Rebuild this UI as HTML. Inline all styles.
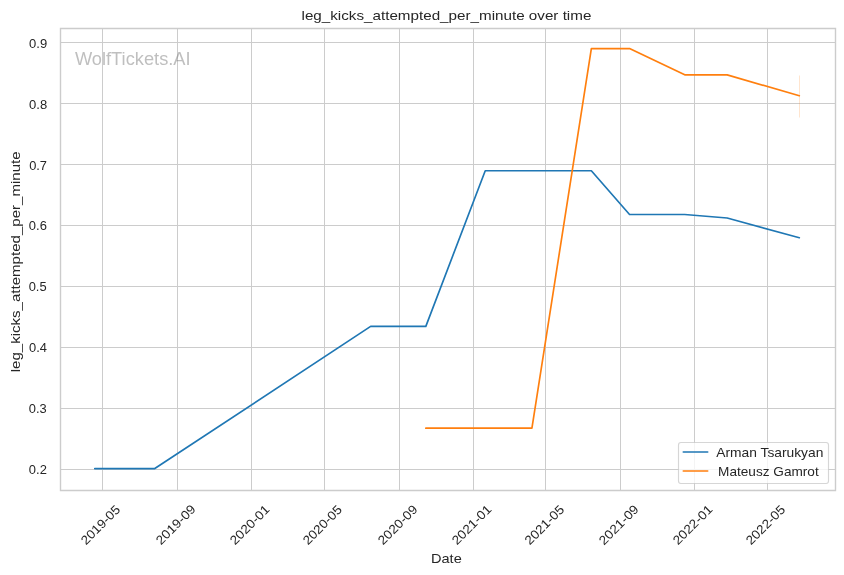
<!DOCTYPE html>
<html><head><meta charset="utf-8"><title>leg_kicks_attempted_per_minute over time</title>
<style>html,body{margin:0;padding:0;background:#fff;width:844px;height:575px;overflow:hidden}svg{display:block;will-change:transform}text{font-family:"Liberation Sans",sans-serif;fill:#262626}</style></head><body>
<svg width="844" height="575" viewBox="0 0 844 575">
<rect x="0" y="0" width="844" height="575" fill="#fff"/>
<path d="M102.5 28.5V490.5M177.5 28.5V490.5M251.5 28.5V490.5M324.5 28.5V490.5M399.5 28.5V490.5M473.5 28.5V490.5M545.5 28.5V490.5M620.5 28.5V490.5M694.5 28.5V490.5M767.5 28.5V490.5M60.5 42.5H835.5M60.5 103.5H835.5M60.5 164.5H835.5M60.5 225.5H835.5M60.5 286.5H835.5M60.5 347.5H835.5M60.5 408.5H835.5M60.5 469.5H835.5" stroke="#cccccc" stroke-width="1" fill="none" shape-rendering="crispEdges"/>
<path d="M94.773 468.565 L154.799 468.565 L370.649 326.329 L425.824 326.329 L485.244 170.742 L591.350 170.742 L629.548 214.516 L684.723 214.516 L727.166 217.991 L799.318 237.744" fill="none" stroke="#1f77b4" stroke-width="1.667" stroke-linecap="round" stroke-linejoin="round"/>
<path d="M425.824 428.144 L531.930 428.144 L591.350 48.565 L629.548 48.565 L684.723 74.841 L727.166 74.841 L799.318 95.753" fill="none" stroke="#ff7f0e" stroke-width="1.667" stroke-linecap="round" stroke-linejoin="round"/>
<rect x="799" y="75.5" width="1" height="42" fill="#ff7f0e" fill-opacity="0.2"/>
<path d="M60.5 490.5V28.5M835.5 490.5V28.5M60.5 490.5H835.5M60.5 28.5H835.5" stroke="#cccccc" stroke-width="1.389" fill="none" stroke-linecap="square"/>
<text x="74.905" y="64.916" font-size="18.167" textLength="115.718" lengthAdjust="spacingAndGlyphs" style="fill:#808080;opacity:0.5">WolfTickets.AI</text>
<text x="28.870" y="474.134" font-size="12.589" textLength="17.996" lengthAdjust="spacingAndGlyphs">0.2</text>
<text x="28.784" y="413.049" font-size="12.589" textLength="17.945" lengthAdjust="spacingAndGlyphs">0.3</text>
<text x="29.045" y="352.218" font-size="12.589" textLength="17.906" lengthAdjust="spacingAndGlyphs">0.4</text>
<text x="28.648" y="291.276" font-size="12.589" textLength="17.965" lengthAdjust="spacingAndGlyphs">0.5</text>
<text x="28.864" y="230.409" font-size="12.589" textLength="18.057" lengthAdjust="spacingAndGlyphs">0.6</text>
<text x="29.161" y="169.536" font-size="12.589" textLength="17.865" lengthAdjust="spacingAndGlyphs">0.7</text>
<text x="29.123" y="109.251" font-size="12.589" textLength="18.142" lengthAdjust="spacingAndGlyphs">0.8</text>
<text x="29.067" y="48.408" font-size="12.589" textLength="18.094" lengthAdjust="spacingAndGlyphs">0.9</text>
<text x="-1.017" y="0.017" font-size="12.589" textLength="49.425" lengthAdjust="spacingAndGlyphs" transform="translate(86.689 544.670) rotate(-45)">2019-05</text>
<text x="-0.854" y="0.314" font-size="12.589" textLength="50.292" lengthAdjust="spacingAndGlyphs" transform="translate(161.266 544.670) rotate(-45)">2019-09</text>
<text x="-0.765" y="0.429" font-size="12.589" textLength="49.991" lengthAdjust="spacingAndGlyphs" transform="translate(235.238 544.670) rotate(-45)">2020-01</text>
<text x="-1.080" y="0.102" font-size="12.589" textLength="49.436" lengthAdjust="spacingAndGlyphs" transform="translate(308.602 544.670) rotate(-45)">2020-05</text>
<text x="-0.708" y="0.465" font-size="12.589" textLength="49.917" lengthAdjust="spacingAndGlyphs" transform="translate(383.180 544.670) rotate(-45)">2020-09</text>
<text x="-0.757" y="0.419" font-size="12.589" textLength="50.073" lengthAdjust="spacingAndGlyphs" transform="translate(457.151 544.670) rotate(-45)">2021-01</text>
<text x="-0.737" y="0.582" font-size="12.589" textLength="49.786" lengthAdjust="spacingAndGlyphs" transform="translate(529.910 544.670) rotate(-45)">2021-05</text>
<text x="-1.089" y="0.271" font-size="12.589" textLength="50.348" lengthAdjust="spacingAndGlyphs" transform="translate(604.487 544.670) rotate(-45)">2021-09</text>
<text x="-1.057" y="0.288" font-size="12.589" textLength="50.205" lengthAdjust="spacingAndGlyphs" transform="translate(678.458 544.670) rotate(-45)">2022-01</text>
<text x="-0.823" y="0.409" font-size="12.589" textLength="49.587" lengthAdjust="spacingAndGlyphs" transform="translate(751.217 544.670) rotate(-45)">2022-05</text>
<text x="301.502" y="19.792" font-size="13.333" textLength="289.869" lengthAdjust="spacingAndGlyphs">leg_kicks_attempted_per_minute over time</text>
<text x="-92.735" y="259.128" font-size="13.333" textLength="220.955" lengthAdjust="spacingAndGlyphs" transform="rotate(-90 20.131 259.465)">leg_kicks_attempted_per_minute</text>
<text x="431.009" y="562.931" font-size="13.333" textLength="30.758" lengthAdjust="spacingAndGlyphs">Date</text>
<g opacity="0.8"><path d="M680.94 442.5H826.06Q828.5 442.5 828.5 444.94V481.06Q828.5 483.5 826.06 483.5H680.94Q678.5 483.5 678.5 481.06V444.94Q678.5 442.5 680.94 442.5Z" fill="#fff" stroke="#cccccc" stroke-width="1.111"/></g>
<path d="M683.3 452H707.7" stroke="#1f77b4" stroke-width="1.667" stroke-linecap="round"/>
<path d="M683.3 471H707.7" stroke="#ff7f0e" stroke-width="1.667" stroke-linecap="round"/>
<text x="716.279" y="456.844" font-size="12.100" textLength="107.104" lengthAdjust="spacingAndGlyphs">Arman Tsarukyan</text>
<text x="718.071" y="475.684" font-size="12.100" textLength="100.635" lengthAdjust="spacingAndGlyphs">Mateusz Gamrot</text>
</svg></body></html>
